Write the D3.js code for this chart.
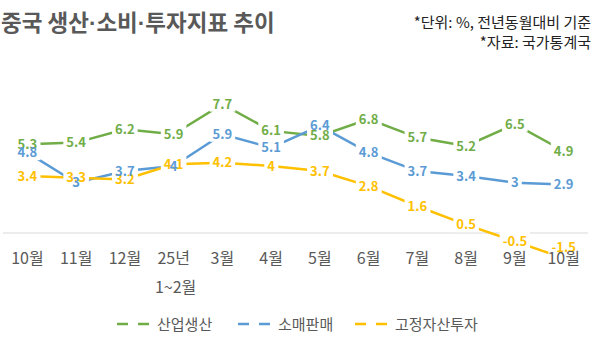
<!DOCTYPE html>
<html><head><meta charset="utf-8">
<script src="https://cdn.jsdelivr.net/npm/d3@7"></script>
<style>
html,body{margin:0;padding:0;background:#fff;}
svg{display:block;font-family:"Noto Sans CJK KR","Noto Sans",sans-serif;}
</style></head>
<body>
<svg id="chart" width="595" height="337"></svg>
<script>
const categories = ["10월","11월","12월","25년\n1~2월","3월","4월","5월","6월","7월","8월","9월","10월"];
const industrial = [5.3,5.4,6.2,5.9,7.7,6.1,5.8,6.8,5.7,5.2,6.5,4.9];
const retail = [4.8,3,3.7,4,5.9,5.1,6.4,4.8,3.7,3.4,3,2.9];
const investment = [3.4,3.3,3.2,4.1,4.2,4,3.7,2.8,1.6,0.5,-0.5,-1.5];
const seriesNames = ["산업생산","소매판매","고정자산투자"];
const seriesColors = ["#70AD47","#5B9BD5","#FFC000"];
const seriesValues = [industrial, retail, investment];

const svg = d3.select("#chart");
const x = d3.scaleBand().domain(categories.map((c,i)=>i)).range([3,588]);
const y = d3.scaleLinear().domain([-2,8]).range([233+2*16.74, 233-8*16.74]);
const cx = i => x(i) + x.bandwidth()/2;

// title & notes
const title = svg.append("text").attr("x",1).attr("y",31).attr("font-size",22.5).attr("font-weight","bold")
  .attr("fill","#595959");
["중국 생산","·","소비","·","투자지표 추이"].forEach(p=>{
  const ts = title.append("tspan").text(p);
  if (p === "·") ts.attr("font-family","Liberation Sans");
});
svg.append("text").attr("x",591).attr("y",28).attr("text-anchor","end").attr("font-size",15)
  .attr("fill","#222").text("*단위: %, 전년동월대비 기준");
svg.append("text").attr("x",591).attr("y",48).attr("text-anchor","end").attr("font-size",15)
  .attr("fill","#222").text("*자료: 국가통계국");

// axis line at 0
svg.append("line").attr("x1",3).attr("x2",588).attr("y1",y(0)).attr("y2",y(0))
  .attr("stroke","#D9D9D9").attr("stroke-width",1);

// clip
svg.append("clipPath").attr("id","plot").append("rect").attr("x",0).attr("y",60).attr("width",595).attr("height",194);

const line = d3.line().x((d,i)=>cx(i)).y(d=>y(d));
const lg = svg.append("g").attr("clip-path","url(#plot)");
seriesValues.forEach((vals,s)=>{
  lg.append("path").datum(vals).attr("d",line).attr("fill","none")
    .attr("stroke",seriesColors[s]).attr("stroke-width",2.5);
});

// labels
const labelsBg = svg.append("g");
const labelsTx = svg.append("g");
const order = [0,2,1];
const items = [];
order.forEach(s=>{
  seriesValues[s].forEach((v,i)=>{
    const ly = Math.min(y(v), 247);
    const t = labelsTx.append("text").attr("x",cx(i)).attr("y",ly).attr("dy","0.35em")
      .attr("text-anchor","middle").attr("font-size",13).attr("font-weight","bold")
      .attr("fill",seriesColors[s]).text(v);
    items.push(t);
  });
});
items.forEach(t=>{
  const b = t.node().getBBox();
  labelsBg.append("rect").attr("x",b.x-3).attr("y",b.y+1).attr("width",b.width+6).attr("height",b.height-2)
    .attr("fill","#fff");
});

// category labels
categories.forEach((c,i)=>{
  const parts = c.split("\n");
  parts.forEach((p,k)=>{
    svg.append("text").attr("x",cx(i)+(k?2:0)).attr("y",264+k*29).attr("text-anchor","middle")
      .attr("font-size",16).attr("fill","#595959").text(p);
  });
});

// legend
const legendX = [117,238,355];
seriesNames.forEach((n,s)=>{
  const lx = legendX[s];
  svg.append("line").attr("x1",lx).attr("x2",lx+33).attr("y1",324).attr("y2",324)
    .attr("stroke",seriesColors[s]).attr("stroke-width",2.5).attr("stroke-dasharray","11,10");
  svg.append("text").attr("x",lx+40).attr("y",329.5).attr("font-size",15).attr("fill","#595959").text(n);
});
</script>
</body></html>
